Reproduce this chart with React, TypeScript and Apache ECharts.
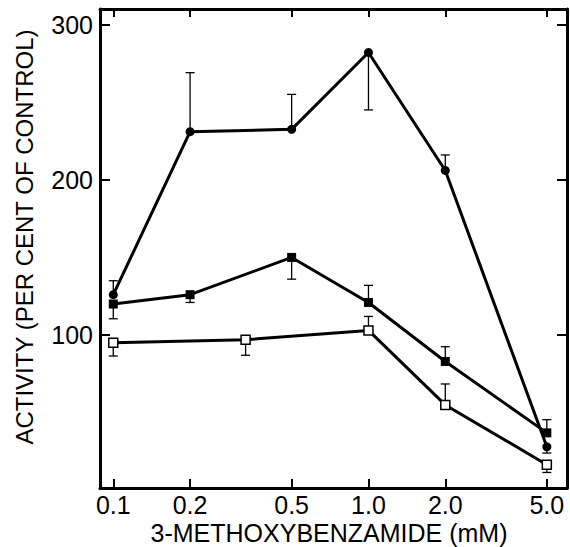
import React, { useEffect, useRef } from "react";
import * as echarts from "echarts";

// X tick values (mM) and labels
const xTickValues = [0.1, 0.2, 0.5, 1.0, 2.0, 5.0];
const xTickLabels = ["0.1", "0.2", "0.5", "1.0", "2.0", "5.0"];
const yTickValues = [100, 200, 300];

// Filled circles
const circleX = [0.1, 0.2, 0.5, 1.0, 2.0, 5.0];
const circleY = [126, 231, 232.5, 282, 206, 28];
const circleErr = [135, 269, 255, 245, 216, 24];

// Filled squares
const fsqX = [0.1, 0.2, 0.5, 1.0, 2.0, 5.0];
const fsqY = [120, 126, 150, 121, 83, 37];
const fsqErr = [110.5, 121, 136, 132, 92.5, 45.5];

// Open squares
const osqX = [0.1, 0.33, 1.0, 2.0, 5.0];
const osqY = [95, 97, 103, 55, 16.5];
const osqErr = [86.5, 87, 112, 68.5, 11.5];

const FONT = "Liberation Sans, Arial, Helvetica, sans-serif";
const lg = (v: number) => Math.log10(v);

function errData(xs: number[], ys: number[], es: number[]) {
  return xs.map((x, i) => [lg(x), ys[i], es[i]]);
}
function lineData(xs: number[], ys: number[]) {
  return xs.map((x, i) => [lg(x), ys[i]]);
}

const errRender = (params: any, api: any) => {
  const x = api.value(0);
  const p0 = api.coord([x, api.value(1)]);
  const p1 = api.coord([x, api.value(2)]);
  const half = 4.5;
  return {
    type: "group",
    children: [
      {
        type: "line",
        shape: { x1: p0[0], y1: p0[1], x2: p1[0], y2: p1[1] },
        style: { stroke: "#000", lineWidth: 1.3 },
      },
      {
        type: "line",
        shape: { x1: p1[0] - half, y1: p1[1], x2: p1[0] + half, y2: p1[1] },
        style: { stroke: "#000", lineWidth: 1.3 },
      },
    ],
  };
};

export default function App() {
  const ref = useRef<HTMLDivElement>(null);
  useEffect(() => {
    if (!ref.current) return;
    const chart = echarts.init(ref.current, null, { renderer: "svg" });
    const xCustom = xTickValues.map(lg);
    const fmtX = (v: number) => {
      let best = 0;
      let bd = Infinity;
      xCustom.forEach((c, i) => {
        const d = Math.abs(c - v);
        if (d < bd) {
          bd = d;
          best = i;
        }
      });
      return xTickLabels[best];
    };
    const axisLine = { show: true, onZero: false, lineStyle: { color: "#000", width: 3 } };
    const xMin = -1.052;
    const xMax = 0.778;
    const yMin = 1.5;
    const yMax = 310;
    chart.setOption({
      animation: false,
      backgroundColor: "#fff",
      grid: { left: 100, right: 3, top: 9, bottom: 59 },
      xAxis: [
        {
          type: "value",
          position: "bottom",
          min: xMin,
          max: xMax,
          axisLine,
          splitLine: { show: false },
          axisTick: {
            show: true,
            inside: true,
            length: 9,
            customValues: xCustom,
            lineStyle: { color: "#000", width: 2 },
          },
          axisLabel: {
            show: true,
            customValues: xCustom,
            formatter: fmtX,
            color: "#000",
            fontSize: 25,
            fontFamily: FONT,
            margin: 4,
          },
        },
        {
          type: "value",
          position: "top",
          min: xMin,
          max: xMax,
          axisLine,
          splitLine: { show: false },
          axisTick: {
            show: true,
            inside: true,
            length: 8,
            customValues: xCustom,
            lineStyle: { color: "#000", width: 2 },
          },
          axisLabel: { show: false },
        },
      ],
      yAxis: [
        {
          type: "value",
          position: "left",
          min: yMin,
          max: yMax,
          axisLine,
          splitLine: { show: false },
          axisTick: {
            show: true,
            inside: true,
            length: 10,
            customValues: yTickValues,
            lineStyle: { color: "#000", width: 2 },
          },
          axisLabel: {
            show: true,
            customValues: yTickValues,
            color: "#000",
            fontSize: 25,
            fontFamily: FONT,
            margin: 7,
          },
        },
        {
          type: "value",
          position: "right",
          min: yMin,
          max: yMax,
          axisLine,
          splitLine: { show: false },
          axisTick: {
            show: true,
            inside: true,
            length: 10,
            customValues: yTickValues,
            lineStyle: { color: "#000", width: 2 },
          },
          axisLabel: { show: false },
        },
      ],
      graphic: [
        {
          type: "text",
          x: 24,
          y: 237,
          rotation: Math.PI / 2,
          style: {
            text: "ACTIVITY (PER CENT OF CONTROL)",
            fill: "#000",
            font: `24px ${FONT}`,
            textAlign: "center",
            textVerticalAlign: "middle",
          },
        },
        {
          type: "text",
          x: 329,
          y: 533,
          style: {
            text: "3-METHOXYBENZAMIDE (mM)",
            fill: "#000",
            font: `25px ${FONT}`,
            lineHeight: 24,
            textAlign: "center",
            textVerticalAlign: "middle",
          },
        },
      ],
      series: [
        {
          type: "custom",
          name: "circErr",
          renderItem: errRender,
          data: errData(circleX, circleY, circleErr),
          z: 1,
          silent: true,
        },
        {
          type: "custom",
          name: "fsqErr",
          renderItem: errRender,
          data: errData(fsqX, fsqY, fsqErr),
          z: 1,
          silent: true,
        },
        {
          type: "custom",
          name: "osqErr",
          renderItem: errRender,
          data: errData(osqX, osqY, osqErr),
          z: 1,
          silent: true,
        },
        {
          type: "line",
          name: "circles",
          data: lineData(circleX, circleY),
          symbol: "circle",
          symbolSize: 9,
          lineStyle: { color: "#000", width: 3 },
          itemStyle: { color: "#000" },
          z: 3,
        },
        {
          type: "line",
          name: "filled squares",
          data: lineData(fsqX, fsqY),
          symbol: "rect",
          symbolSize: 9,
          lineStyle: { color: "#000", width: 3 },
          itemStyle: { color: "#000" },
          z: 3,
        },
        {
          type: "line",
          name: "open squares",
          data: lineData(osqX, osqY),
          symbol: "rect",
          symbolSize: 9,
          lineStyle: { color: "#000", width: 3 },
          itemStyle: { color: "#fff", borderColor: "#000", borderWidth: 1.5 },
          z: 3,
        },
      ],
    });
    return () => chart.dispose();
  }, []);
  return (
    <div
      ref={ref}
      style={{ position: "fixed", left: 0, top: 0, width: 570, height: 547 }}
    />
  );
}
